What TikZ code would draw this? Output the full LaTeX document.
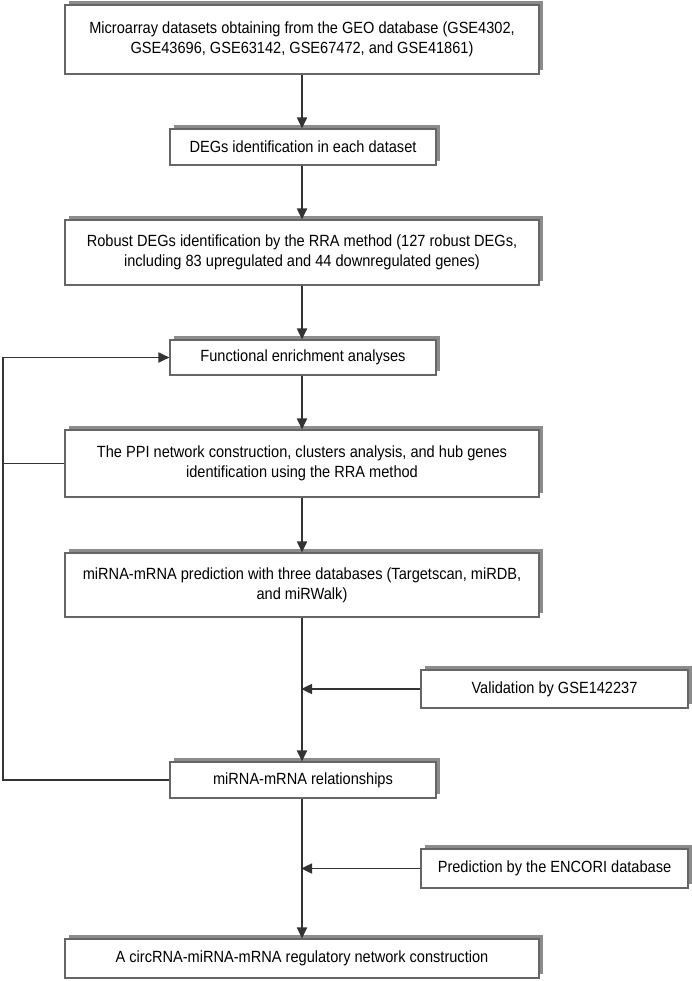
\documentclass[tikz,border=0pt]{standalone}
\usepackage{fontspec}
\setmainfont{Liberation Sans}[FakeStretch=0.9]
\usetikzlibrary{arrows.meta,shadows}
\begin{document}
\begin{tikzpicture}[x=1pt,y=-1pt,
  box/.style={draw=black!60, line width=1.1pt, fill=white, align=center,
    inner sep=0pt, font=\fontsize{16.2}{20}\selectfont,
    drop shadow={shadow xshift=4pt, shadow yshift=4pt, opacity=1, fill=black!45}},
  wide/.style={box, minimum width=474pt},
  narrow/.style={box, minimum width=266pt},
  side/.style={box, minimum width=267pt},
  conn/.style={draw=black!80, line width=1.8pt},
  arr/.style={conn, -{Triangle[length=11pt,width=10pt]}}]
\useasboundingbox (0,0) rectangle (692,981);
\node[wide, minimum height=69pt] (b1) at (302,39.5) {Microarray datasets obtaining from the GEO database (GSE4302,\\GSE43696, GSE63142, GSE67472, and GSE41861)};
\node[narrow, minimum height=36pt] (b2) at (303,147) {DEGs identification in each dataset};
\node[wide, minimum height=65pt] (b3) at (302,252.5) {Robust DEGs identification by the RRA method (127 robust DEGs,\\including 83 upregulated and 44 downregulated genes)};
\node[narrow, minimum height=35pt] (b4) at (303,357.5) {Functional enrichment analyses};
\node[wide, minimum height=67pt] (b5) at (302,463.5) {The PPI network construction, clusters analysis, and hub genes\\identification using the RRA method};
\node[wide, minimum height=64pt] (b6) at (302,585) {miRNA-mRNA prediction with three databases (Targetscan, miRDB,\\and miRWalk)};
\node[side, minimum height=38pt] (val) at (554.5,689) {Validation by GSE142237};
\node[narrow, minimum height=36pt] (b7) at (303,780) {miRNA-mRNA relationships};
\node[side, minimum height=39pt] (pred) at (554.5,868.5) {Prediction by the ENCORI database};
\node[wide, minimum height=39pt] (b8) at (302,958.5) {A circRNA-miRNA-mRNA regulatory network construction};
\coordinate (jv) at (302,689);
\coordinate (jp) at (302,868.5);
\coordinate (c1) at (3,780);
\coordinate (c2) at (3,357.5);
\coordinate (c3) at (3,463.5);
\draw[arr] (b1.south -| 302,0) -- (b2.north -| 302,0);
\draw[arr] (b2.south -| 302,0) -- (b3.north -| 302,0);
\draw[arr] (b3.south -| 302,0) -- (b4.north -| 302,0);
\draw[arr] (b4.south -| 302,0) -- (b5.north -| 302,0);
\draw[arr] (b5.south -| 302,0) -- (b6.north -| 302,0);
\draw[arr] (b6.south -| 302,0) -- (b7.north -| 302,0);
\draw[arr] (b7.south -| 302,0) -- (b8.north -| 302,0);
\draw[arr, shorten >=-0.9pt] (val.west) -- (jv);
\draw[arr, shorten >=-0.9pt] (pred.west) -- (jp);
\draw[arr] (b7.west) -- (c1) -- (c2) -- (b4.west);
\draw[conn] (b5.west) -- (c3);
\end{tikzpicture}
\end{document}
